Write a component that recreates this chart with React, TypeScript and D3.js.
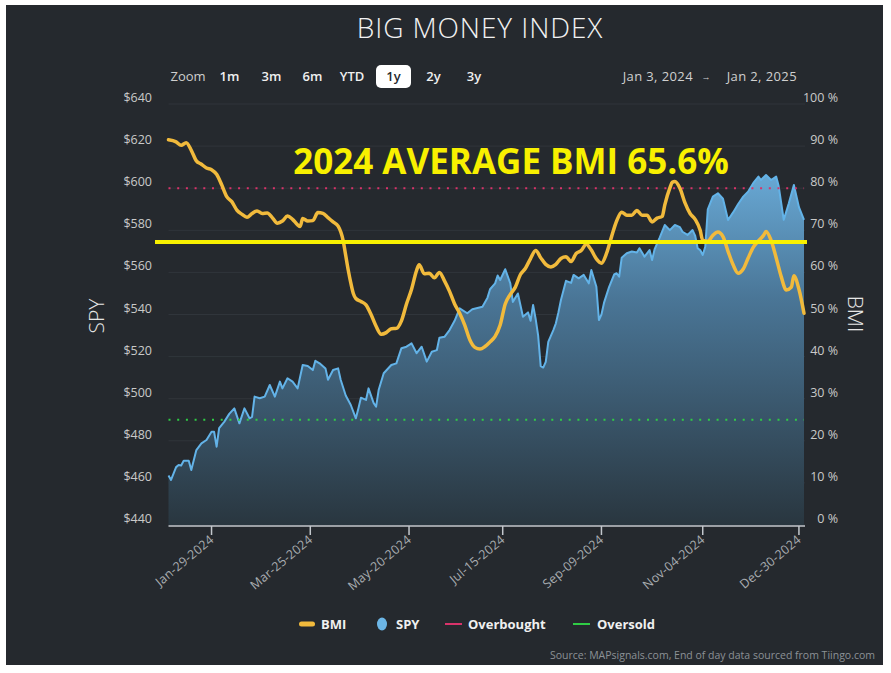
import React from "react";
import * as d3 from "d3";

// ---------- DATA ----------
const tradingHolidays = [
  "2024-01-15", "2024-02-19", "2024-03-29", "2024-05-27", "2024-06-19",
  "2024-07-04", "2024-09-02", "2024-11-28", "2024-12-25", "2025-01-01",
];

const bmiDates = [
  "2024-01-03","2024-01-08","2024-01-10","2024-01-12","2024-01-17","2024-01-19","2024-01-23","2024-01-25","2024-01-29","2024-01-31",
  "2024-02-02","2024-02-06","2024-02-08","2024-02-12","2024-02-14","2024-02-16","2024-02-21","2024-02-23","2024-02-27","2024-02-29",
  "2024-03-04","2024-03-06","2024-03-08","2024-03-12","2024-03-14","2024-03-18","2024-03-19","2024-03-20","2024-03-22","2024-03-26","2024-03-28",
  "2024-04-02","2024-04-04","2024-04-08","2024-04-10","2024-04-12","2024-04-15","2024-04-16","2024-04-17","2024-04-18","2024-04-19","2024-04-23","2024-04-25","2024-04-29",
  "2024-05-01","2024-05-03","2024-05-07","2024-05-09","2024-05-13","2024-05-15","2024-05-17","2024-05-21","2024-05-23","2024-05-24","2024-05-29","2024-05-31",
  "2024-06-04","2024-06-06","2024-06-10","2024-06-12","2024-06-14","2024-06-18","2024-06-21","2024-06-25","2024-06-27",
  "2024-07-01","2024-07-03","2024-07-08","2024-07-10","2024-07-12","2024-07-16","2024-07-18","2024-07-22","2024-07-24","2024-07-26","2024-07-30",
  "2024-08-01","2024-08-05","2024-08-07","2024-08-09","2024-08-13","2024-08-15","2024-08-19","2024-08-21","2024-08-23","2024-08-27","2024-08-29",
  "2024-09-03","2024-09-05","2024-09-09","2024-09-11","2024-09-13","2024-09-17","2024-09-19","2024-09-23","2024-09-25","2024-09-27",
  "2024-10-01","2024-10-03","2024-10-07","2024-10-09","2024-10-11","2024-10-14","2024-10-16","2024-10-17","2024-10-18","2024-10-22","2024-10-24","2024-10-28","2024-10-30",
  "2024-11-01","2024-11-04","2024-11-06","2024-11-08","2024-11-12","2024-11-14","2024-11-18","2024-11-20","2024-11-22","2024-11-26","2024-11-29",
  "2024-12-03","2024-12-05","2024-12-09","2024-12-10","2024-12-12","2024-12-16","2024-12-18","2024-12-20","2024-12-24","2024-12-26","2024-12-30","2025-01-02",
];
const bmiValues = [
  91.5, 91.0, 90.2, 90.8, 89.0, 86.5, 85.7, 84.8, 84.4, 83.3,
  80.8, 78.0, 76.8, 74.8, 73.8, 73.1, 74.0, 74.6, 74.0, 74.1,
  73.0, 71.7, 72.2, 73.4, 72.6, 71.3, 70.9, 72.8, 72.2, 72.3, 74.2,
  74.0, 73.0, 72.0, 71.0, 67.5, 64.0, 60.5, 57.5, 55.0, 53.8, 53.1, 52.3, 50.0,
  47.2, 45.3, 45.7, 46.6, 46.7, 48.5, 52.5, 56.0, 60.5, 61.8, 59.7, 59.8,
  58.7, 60.0, 58.0, 55.5, 52.5, 50.3, 47.5, 44.0, 42.2,
  41.8, 42.4, 43.5, 44.8, 47.5, 52.5, 54.8, 56.5, 59.5, 61.0, 63.3,
  65.2, 63.5, 61.9, 61.3, 61.9, 63.3, 63.7, 62.6, 64.5, 65.2, 66.7,
  65.3, 63.2, 62.2, 64.5, 68.5, 72.2, 74.3, 73.6, 73.6, 74.7,
  73.6, 73.6, 72.0, 72.9, 73.3, 76.0, 80.0, 81.4, 81.6, 80.0, 76.5, 74.0, 72.6,
  70.0, 67.6, 67.4, 68.8, 69.6, 68.5, 65.0, 61.8, 59.8, 60.8, 63.5,
  66.0, 67.5, 68.8, 69.7, 67.6, 63.5, 59.0, 55.8, 56.5, 59.2, 56.0, 50.3,
];

const spyDates = [
  "2024-01-03","2024-01-04","2024-01-08","2024-01-09","2024-01-10","2024-01-11","2024-01-16","2024-01-17","2024-01-19","2024-01-23","2024-01-25","2024-01-29","2024-01-30","2024-01-31",
  "2024-02-01","2024-02-05","2024-02-07","2024-02-09","2024-02-13","2024-02-15","2024-02-20","2024-02-21","2024-02-22","2024-02-26","2024-02-28",
  "2024-03-01","2024-03-05","2024-03-07","2024-03-08","2024-03-12","2024-03-14","2024-03-18","2024-03-20","2024-03-22","2024-03-26","2024-03-27",
  "2024-04-01","2024-04-03","2024-04-04","2024-04-08","2024-04-10","2024-04-11","2024-04-15","2024-04-17","2024-04-19","2024-04-22","2024-04-23","2024-04-25","2024-04-26","2024-04-30",
  "2024-05-01","2024-05-02","2024-05-06","2024-05-09","2024-05-13","2024-05-15","2024-05-17","2024-05-21","2024-05-23","2024-05-28","2024-05-30",
  "2024-06-03","2024-06-05","2024-06-06","2024-06-10","2024-06-12","2024-06-14","2024-06-18","2024-06-24","2024-06-26",
  "2024-07-02","2024-07-05","2024-07-08","2024-07-10","2024-07-11","2024-07-12","2024-07-16","2024-07-18","2024-07-19","2024-07-23","2024-07-25","2024-07-29","2024-07-30","2024-07-31",
  "2024-08-01","2024-08-02","2024-08-05","2024-08-06","2024-08-07","2024-08-08","2024-08-12","2024-08-13","2024-08-14","2024-08-15","2024-08-19","2024-08-21","2024-08-22","2024-08-26","2024-08-28","2024-08-30",
  "2024-09-03","2024-09-05","2024-09-06","2024-09-09","2024-09-10","2024-09-12","2024-09-16","2024-09-17","2024-09-18","2024-09-19","2024-09-23","2024-09-25","2024-09-27","2024-09-30",
  "2024-10-02","2024-10-04","2024-10-07","2024-10-08","2024-10-10","2024-10-14","2024-10-16","2024-10-18","2024-10-22","2024-10-23","2024-10-25","2024-10-29","2024-10-30","2024-10-31",
  "2024-11-01","2024-11-04","2024-11-05","2024-11-06","2024-11-08","2024-11-12","2024-11-14","2024-11-18","2024-11-20","2024-11-22","2024-11-26","2024-11-29",
  "2024-12-03","2024-12-05","2024-12-06","2024-12-10","2024-12-12","2024-12-16","2024-12-17","2024-12-19","2024-12-23","2024-12-26","2024-12-30","2025-01-02",
];
const spyValues = [
  463.5, 461.4, 467.5, 468.5, 468.3, 470.5, 470.5, 466.1, 475.6, 478.8, 480.4, 484.3, 484.3, 477.2,
  486.0, 489.0, 492.8, 495.4, 488.3, 495.4, 490.7, 491.4, 501.0, 500.2, 501.0,
  506.5, 501.0, 508.1, 504.9, 509.7, 508.1, 504.9, 516.0, 515.5, 513.6, 518.0,
  516.5, 514.4, 509.0, 513.6, 514.4, 509.0, 501.5, 497.0, 490.7, 495.4, 500.5, 499.4, 504.9, 498.0,
  496.2, 504.1, 512.1, 516.0, 516.8, 524.0, 524.7, 526.3, 521.6, 524.7, 517.6,
  522.3, 523.1, 529.0, 529.4, 532.6, 537.0, 542.9, 540.6, 542.5,
  543.7, 548.0, 552.0, 554.8, 558.5, 556.4, 561.5, 554.8, 546.0, 550.0, 538.9, 541.0, 537.0, 544.5,
  538.0, 530.0, 515.5, 514.8, 517.5, 527.0, 532.6, 535.8, 541.0, 546.9, 556.0, 555.0, 558.8, 557.2, 558.8, 554.8,
  561.1, 553.2, 537.4, 540.0, 545.5, 553.0, 559.0, 559.6, 558.0, 567.0, 569.1, 569.9, 569.5, 571.5,
  567.5, 570.6, 565.9, 571.0, 576.5, 582.5, 580.1, 582.5, 581.5, 579.3, 577.8, 580.1, 577.5, 571.5,
  570.6, 568.3, 572.2, 590.0, 596.0, 597.6, 595.0, 584.9, 588.5, 592.5, 596.0, 598.5,
  602.5, 605.5, 603.9, 606.3, 603.9, 605.5, 601.0, 585.0, 592.8, 601.5, 591.0, 585.0,
];

const spyTicks = [440, 460, 480, 500, 520, 540, 560, 580, 600, 620, 640];
const bmiTicks = [0, 10, 20, 30, 40, 50, 60, 70, 80, 90, 100];
const xTickDates = ["2024-01-29", "2024-03-25", "2024-05-20", "2024-07-15", "2024-09-09", "2024-11-04", "2024-12-30"];
const overboughtLevel = 80;
const oversoldLevel = 25;
const averageLineLevel = 67.2;
const averageText = "2024 AVERAGE BMI 65.6%";
const zoomLabels = ["Zoom", "1m", "3m", "6m", "YTD", "1y", "2y", "3y"];
const selectedZoom = "1y";
const rangeFrom = "Jan 3, 2024";
const rangeTo = "Jan 2, 2025";
const legendNames = ["BMI", "SPY", "Overbought", "Oversold"];
const titleText = "BIG MONEY INDEX";
const sourceText = "Source: MAPsignals.com, End of day data sourced from Tiingo.com";

// ---------- COMPONENT ----------
const FONT = "'Open Sans', 'Noto Sans', sans-serif";

export default function App() {
  const W = 891, H = 673;
  const left = 168.5, right = 804, top = 104, bottom = 525;

  const fmt = d3.timeFormat("%Y-%m-%d");
  const parse = d3.timeParse("%Y-%m-%d");
  const days = d3
    .timeDays(new Date(2024, 0, 3), new Date(2025, 0, 3))
    .filter((d) => {
      const w = d.getDay();
      return w !== 0 && w !== 6 && !tradingHolidays.includes(fmt(d));
    });
  const idx = new Map(days.map((d, i) => [fmt(d), i] as [string, number]));

  const x = d3.scaleLinear().domain([0, days.length - 1]).range([left, right]);
  const ySpy = d3.scaleLinear().domain([440, 640]).range([bottom, top]);
  const yBmi = d3.scaleLinear().domain([0, 100]).range([bottom, top]);

  const spy = spyDates.map((d, i) => ({ i: idx.get(d) as number, v: spyValues[i] }));
  const bmi = bmiDates.map((d, i) => ({ i: idx.get(d) as number, v: bmiValues[i] }));

  const spyLine = d3.line<{ i: number; v: number }>().x((d) => x(d.i)).y((d) => ySpy(d.v))(spy) || "";
  const spyArea = d3
    .area<{ i: number; v: number }>()
    .x((d) => x(d.i))
    .y0(bottom)
    .y1((d) => ySpy(d.v))(spy) || "";
  const bmiLine = d3
    .line<{ i: number; v: number }>()
    .x((d) => x(d.i))
    .y((d) => yBmi(d.v))
    .curve(d3.curveMonotoneX)(bmi) || "";

  const tickFmt = d3.timeFormat("%b-%d-%Y");

  const zoomX = [188, 229.5, 271.5, 312.5, 352, 393.5, 433.5, 474];
  const legendX = [299, 378, 445, 573];
  const legendTextX = [321, 396, 468, 597];
  const legendY = 624;

  return (
    <svg
      width={W}
      height={H}
      style={{ position: "absolute", left: 0, top: 0, background: "#ffffff" }}
      fontFamily={FONT}
    >
      <defs>
        <linearGradient id="spyFill" gradientUnits="userSpaceOnUse" x1="0" y1={175} x2="0" y2={bottom}>
          <stop offset="0" stopColor="#68a8d4" />
          <stop offset="0.35" stopColor="#4a7697" />
          <stop offset="1" stopColor="#29363f" />
        </linearGradient>
      </defs>
      <rect x={6} y={5} width={877} height={660} fill="#25292e" />

      {/* title */}
      <text x={480} y={38} textAnchor="middle" fill="#f2f2f2" fontSize={28} fontWeight={300} letterSpacing={0.9}>
        {titleText}
      </text>

      {/* zoom row */}
      <rect x={376} y={65} width={35} height={23} rx={5} fill="#ffffff" />
      {zoomLabels.map((z, i) => (
        <text
          key={z}
          x={zoomX[i]}
          y={81}
          textAnchor="middle"
          fontSize={13}
          fontWeight={i === 0 ? 400 : 600}
          fill={z === selectedZoom ? "#25292e" : i === 0 ? "#cfcfcf" : "#f0f0f0"}
        >
          {z}
        </text>
      ))}
      <text x={693} y={81} textAnchor="end" fontSize={13} letterSpacing={0.4} fill="#d0d0d0">{rangeFrom}</text>
      <text x={706} y={80} textAnchor="middle" fontSize={9} fill="#d0d0d0">→</text>
      <text x={797} y={81} textAnchor="end" fontSize={13} letterSpacing={0.4} fill="#d0d0d0">{rangeTo}</text>

      {/* grid */}
      {spyTicks.map((t) => (
        <line key={t} x1={left} x2={right + 1} y1={ySpy(t)} y2={ySpy(t)} stroke="#30353b" strokeWidth={1} />
      ))}

      {/* SPY area and line */}
      <path d={spyArea} fill="url(#spyFill)" />
      <path d={spyLine} fill="none" stroke="#63b3e8" strokeWidth={2} strokeLinejoin="round" />

      {/* plot lines */}
      <line x1={left} x2={right} y1={yBmi(overboughtLevel)} y2={yBmi(overboughtLevel)} stroke="#d8336a" strokeWidth={2} strokeDasharray="2 6.7" />
      <line x1={left} x2={right} y1={yBmi(oversoldLevel)} y2={yBmi(oversoldLevel)} stroke="#2fcc45" strokeWidth={2} strokeDasharray="2 6.7" />

      {/* BMI line */}
      <path d={bmiLine} fill="none" stroke="#f1ba3c" strokeWidth={3.5} strokeLinejoin="round" strokeLinecap="round" />

      {/* average annotation */}
      <line x1={155} x2={807} y1={yBmi(averageLineLevel)} y2={yBmi(averageLineLevel)} stroke="#f8f000" strokeWidth={4} />
      <text x={511} y={174} textAnchor="middle" fontSize={35} fontWeight={700} fill="#f8f000">
        {averageText}
      </text>

      {/* left axis labels */}
      {spyTicks.map((t) => (
        <text key={t} x={152} y={ySpy(t) - 2} textAnchor="end" fontSize={12.5} fill="#c9c9c9">
          {"$" + t}
        </text>
      ))}
      {/* right axis labels */}
      {bmiTicks.map((t) => (
        <text key={t} x={838} y={yBmi(t) - 2} textAnchor="end" fontSize={12.5} fill="#c9c9c9">
          {t + " %"}
        </text>
      ))}
      <text transform={`translate(104,316) rotate(-90)`} textAnchor="middle" fontSize={21} fontWeight={300} fill="#e6e6e6">
        SPY
      </text>
      <text transform={`translate(848,314) rotate(90)`} textAnchor="middle" fontSize={21} fontWeight={300} fill="#e6e6e6">
        BMI
      </text>

      {/* x axis */}
      <line x1={left} x2={right + 1} y1={526} y2={526} stroke="#c3c7cc" strokeWidth={1.5} />
      {xTickDates.map((d) => {
        const tx = x(idx.get(d) as number);
        return (
          <g key={d}>
            <line x1={tx} x2={tx} y1={526} y2={535} stroke="#c3c7cc" strokeWidth={1.5} />
            <text
              transform={`translate(${tx + 3},${541}) rotate(-40)`}
              textAnchor="end"
              fontSize={12.5}
              letterSpacing={0.2}
              fill="#a9adb1"
            >
              {tickFmt(parse(d) as Date)}
            </text>
          </g>
        );
      })}

      {/* legend */}
      <rect x={legendX[0]} y={legendY - 2.5} width={16} height={5} rx={2.5} fill="#f1ba3c" />
      <ellipse cx={legendX[1] + 4} cy={legendY} rx={5} ry={6.5} fill="#6cb6e6" />
      <line x1={legendX[2]} x2={legendX[2] + 17} y1={legendY} y2={legendY} stroke="#d8336a" strokeWidth={2} />
      <line x1={legendX[3]} x2={legendX[3] + 17} y1={legendY} y2={legendY} stroke="#2fcc45" strokeWidth={2} />
      {legendNames.map((n, i) => (
        <text key={n} x={legendTextX[i]} y={legendY + 4.5} fontSize={13} fontWeight={700} fill="#f0f0f0">
          {n}
        </text>
      ))}

      {/* source */}
      <text x={875} y={659} textAnchor="end" fontSize={10.5} fill="#8c9196">
        {sourceText}
      </text>
    </svg>
  );
}
